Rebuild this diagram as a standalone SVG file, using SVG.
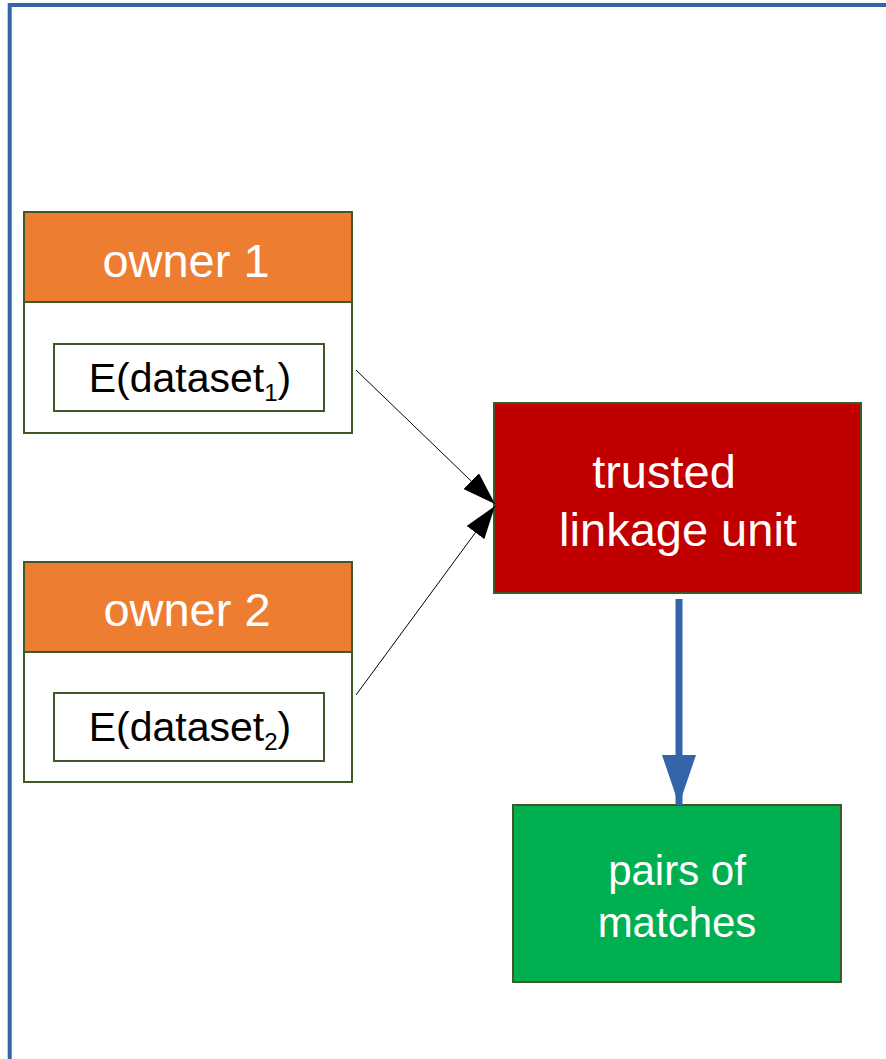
<svg xmlns="http://www.w3.org/2000/svg" width="886" height="1059" viewBox="0 0 886 1059">
  <defs>
    <style>
      .frame { fill: none; stroke: #3465a8; stroke-width: 4; }
      .box { stroke: #3f5a27; stroke-width: 2; }
      .head { fill: #ed7d31; }
      .body { fill: #ffffff; }
      .tlu { fill: #c00000; }
      .out { fill: #00b050; }
      .lbl { font-family: "Liberation Sans", Arial, sans-serif; font-size: 47px; fill: #ffffff; text-anchor: middle; }
      .small { font-size: 42px; }
      .data { font-family: "Liberation Sans", Arial, sans-serif; font-size: 41px; fill: #000000; text-anchor: middle; }
      .sub { font-size: 24px; }
      .thin { stroke: #000000; stroke-width: 1; fill: none; }
      .thick { stroke: #3465a8; stroke-width: 7; fill: none; }
    </style>
    <marker id="arrowBlack" markerUnits="userSpaceOnUse" markerWidth="34" markerHeight="22" refX="33" refY="11" orient="auto">
      <path d="M0,0 L33,11 L0,22 Z" fill="#000000"/>
    </marker>
    <marker id="arrowBlue" markerUnits="userSpaceOnUse" markerWidth="52" markerHeight="36" refX="50" refY="17" orient="auto">
      <path d="M0,0 L50,17 L0,34 Z" fill="#3465a8"/>
    </marker>
  </defs>

  <rect width="886" height="1059" fill="#ffffff"/>

  <!-- outer frame, running off the right and bottom edges -->
  <rect class="frame" x="9.7" y="5" width="900" height="1080"/>

  <g id="owner1">
    <rect class="box body" x="24" y="212" width="328" height="221"/>
    <rect class="box head" x="24" y="212" width="328" height="90"/>
    <text class="lbl" x="186" y="277">owner 1</text>
    <rect class="box body" x="54" y="344" width="270" height="67"/>
    <text class="data" x="190" y="392">E(dataset<tspan class="sub" dy="9">1</tspan><tspan dy="-9">)</tspan></text>
  </g>

  <g id="owner2">
    <rect class="box body" x="24" y="562" width="328" height="220"/>
    <rect class="box head" x="24" y="562" width="328" height="90"/>
    <text class="lbl" x="187" y="626">owner 2</text>
    <rect class="box body" x="54" y="693" width="270" height="68"/>
    <text class="data" x="190" y="741">E(dataset<tspan class="sub" dy="9">2</tspan><tspan dy="-9">)</tspan></text>
  </g>

  <g id="linkage-unit">
    <rect class="box tlu" x="494" y="403" width="367" height="190"/>
    <text class="lbl" x="664" y="488">trusted</text>
    <text class="lbl" x="678" y="546">linkage unit</text>
  </g>

  <g id="matches">
    <rect class="box out" x="513" y="805" width="328" height="177"/>
    <text class="lbl small" x="677" y="885">pairs of</text>
    <text class="lbl small" x="677" y="937">matches</text>
  </g>

  <g id="connectors">
    <line class="thin" x1="356" y1="370" x2="495" y2="504" marker-end="url(#arrowBlack)"/>
    <line class="thin" x1="356" y1="695" x2="495" y2="506" marker-end="url(#arrowBlack)"/>
    <line class="thick" x1="679" y1="599" x2="679" y2="805" marker-end="url(#arrowBlue)"/>
  </g>
</svg>
